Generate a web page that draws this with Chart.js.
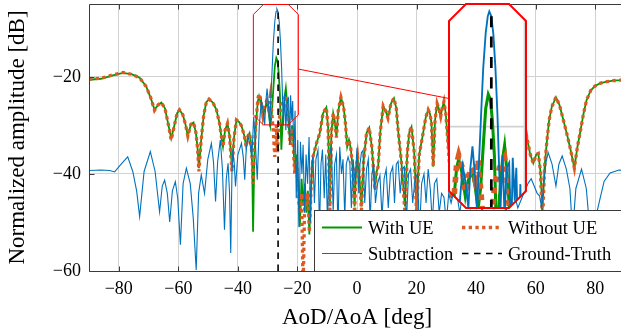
<!DOCTYPE html>
<html><head><meta charset="utf-8">
<script src="https://cdn.jsdelivr.net/npm/chart.js@4/dist/chart.umd.min.js"></script>
<style>
html,body{margin:0;padding:0;overflow:hidden;background:#fff;width:621px;height:332px;}
#wrap{position:relative;width:625px;height:332px;}
#main{position:absolute;left:0;top:0;}
#inset{position:absolute;left:446px;top:1px;}
</style></head><body>
<div id="wrap"><canvas id="main" width="625" height="332"></canvas><canvas id="inset" width="83" height="210"></canvas></div>
<script>
// ---- data ----
const angles = [
-90,-86,-82,-78.6,-75.5,-73,-70.8,-69.2,-68,-66.8,
-65.7,-64.5,-63.3,-62.4,-61.4,-60.4,-59.6,-58.5,-57.6,-56.8,
-55.8,-54.9,-54.1,-53.5,-53.1,-52.4,-51.5,-50.6,-49.7,-48.4,
-47.2,-46.2,-45.5,-45,-44.3,-43.5,-42.8,-42,-41.3,-40.5,
-39.6,-38.8,-37.9,-37.2,-36.6,-36.1,-35.6,-35.2,-34.9,-34.5,
-33.8,-33.3,-32.9,-32.3,-31.6,-31,-30.3,-29.7,-29.1,-28.6,
-28.1,-27.6,-27.1,-26.7,-26.3,-25.9,-25.4,-24.9,-24.3,-23.9,
-23.4,-22.9,-22.4,-21.8,-21.3,-20.9,-20.3,-19.7,-19.2,-18.6,
-18.1,-17.5,-17,-16.5,-16,-15.4,-14.8,-13.6,-12.5,-11.4,
-10.3,-9.7,-9.1,-8.6,-8,-7.5,-6.9,-6.3,-5.4,-4.5,
-3.9,-3.3,-2.7,-2.1,-1.5,-0.8,-0.3,0.2,0.8,1.5,
2.2,3.2,4.1,5,6,6.6,7.1,7.8,8.8,9.6,
10.4,11.4,12.4,13.2,13.8,14.9,16.1,16.9,17.6,18.3,
19.2,20,20.9,22.2,23.1,23.9,24.5,25,25.6,26.2,
26.9,27.5,28.1,28.6,29.2,29.8,30.3,31,31.7,32.5,
33.5,34.5,35.5,36.5,37.5,38.5,39.5,40.5,41.5,42.5,
43.5,44.5,45.5,46.5,47.5,48.5,49.5,50.5,51.5,52.5,
53.5,54.5,55.5,56.3,57,58.1,59.2,60.2,60.9,61.6,
62.3,63,63.7,64.5,65.4,66.8,68,69.3,70.5,71.5,
73,74,74.9,76,77.1,78.5,79.9,81.8,83.9,86,
88.3,90];
const withUE = [
-20.6,-20.4,-19.7,-19.2,-19.5,-20.2,-22.0,-24.5,-26.8,-25.8,
-25.3,-26.5,-30.0,-32.7,-30.2,-27.5,-26.8,-27.8,-29.8,-32.2,
-29.8,-29.4,-31.5,-35.0,-38.8,-33.5,-28.0,-25.2,-24.6,-25.3,
-26.8,-29.5,-32.5,-34.4,-31.0,-29.6,-32.2,-38.5,-32.5,-28.9,
-29.3,-30.1,-32.0,-34.4,-32.2,-31.6,-33.5,-38.0,-51.9,-37.0,
-28.5,-25.0,-24.0,-25.5,-28.5,-26.5,-25.5,-27.2,-30.0,-27.5,
-22.5,-17.8,-16.1,-16.7,-19.2,-23.5,-35.0,-28.5,-24.0,-22.3,
-25.8,-30.5,-33.7,-30.0,-34.5,-39.8,-36.0,-43.5,-50.9,-41.0,
-46.5,-42.0,-48.0,-43.5,-52.5,-42.6,-36.5,-33.7,-31.6,-27.5,
-26.3,-30.5,-46.5,-31.5,-27.5,-29.0,-32.5,-27.0,-24.2,-26.2,
-29.5,-34.4,-33.0,-34.7,-38.5,-46.7,-39.0,-36.5,-40.5,-46.7,
-37.5,-31.6,-30.5,-34.5,-43.3,-39.5,-38.5,-31.5,-26.0,-27.0,
-28.5,-25.5,-24.4,-26.5,-31.0,-37.5,-46.7,-35.5,-31.3,-30.3,
-35.5,-46.7,-36.0,-31.6,-28.3,-26.8,-27.6,-29.5,-38.5,-29.0,
-25.5,-26.6,-28.2,-26.5,-25.1,-27.5,-31.6,-37.5,-45.0,-34.0,
-28.5,-30.0,-40.0,-31.0,-27.5,-33.0,-45.0,-33.0,-29.0,-35.0,
-47.0,-34.0,-30.0,-34.0,-46.0,-34.0,-29.5,-33.0,-42.0,-34.0,
-31.0,-35.0,-43.0,-36.0,-32.3,-35.8,-37.8,-36.0,-35.8,-39.5,
-47.4,-38.5,-33.7,-29.0,-26.2,-24.2,-25.8,-28.9,-31.8,-34.4,
-38.8,-34.5,-31.6,-27.8,-24.8,-22.8,-21.9,-21.3,-21.0,-20.8,
-20.7,-20.6];
const withoutUE = [
-20.5,-20.3,-19.6,-19.1,-19.5,-20.2,-22.0,-24.4,-26.9,-25.8,
-25.3,-26.5,-30.0,-33.0,-30.2,-27.5,-26.8,-27.8,-29.8,-32.2,
-29.8,-29.4,-31.5,-35.0,-39.5,-33.5,-28.0,-25.2,-24.6,-25.3,
-26.8,-29.5,-32.5,-34.4,-31.0,-29.6,-32.2,-39.5,-32.5,-28.9,
-29.3,-30.1,-32.0,-34.4,-32.2,-31.6,-33.5,-37.0,-42.0,-35.0,
-28.5,-24.5,-23.5,-24.8,-28.0,-26.0,-25.0,-26.5,-24.0,-27.5,
-31.5,-36.5,-30.0,-35.5,-30.5,-27.5,-26.0,-25.0,-24.3,-23.8,
-26.5,-30.5,-34.0,-30.5,-35.5,-40.0,-37.0,-45.0,-48.0,-44.0,
-64.0,-44.0,-47.0,-44.0,-52.0,-42.6,-36.5,-33.7,-31.6,-27.5,
-26.3,-30.5,-47.5,-31.5,-27.5,-29.0,-32.5,-27.0,-24.2,-26.2,
-29.5,-34.4,-33.0,-34.7,-38.5,-48.0,-39.0,-36.5,-40.5,-47.5,
-37.5,-31.6,-30.5,-34.5,-43.3,-39.5,-38.5,-31.5,-26.0,-27.0,
-28.5,-25.5,-24.4,-26.5,-31.0,-37.5,-48.0,-35.5,-31.3,-30.3,
-35.5,-48.0,-36.0,-31.6,-28.3,-26.8,-27.6,-29.5,-38.5,-29.0,
-25.5,-26.6,-28.2,-26.5,-25.1,-27.5,-31.6,-37.5,-45.0,-34.0,
-28.5,-30.0,-40.0,-31.0,-27.5,-33.0,-45.0,-33.0,-29.0,-35.0,
-47.0,-34.0,-30.0,-34.0,-46.0,-34.0,-29.5,-33.0,-42.0,-34.0,
-31.0,-35.0,-43.0,-36.0,-32.3,-35.8,-37.8,-36.0,-35.8,-39.5,
-50.0,-38.5,-33.7,-29.0,-26.2,-24.2,-25.8,-28.9,-31.8,-34.4,
-38.8,-34.5,-31.6,-27.8,-24.8,-22.8,-21.9,-21.3,-21.0,-20.8,
-20.7,-20.6];
const subAngles = [
-90,-86,-83,-81.4,-79.5,-77,-75.3,-74,-73,-71.5,
-69.4,-67.8,-66.3,-65.4,-64.6,-63.7,-62.9,-62,-61,-60.2,
-59.3,-58.4,-57.3,-56,-55,-54,-53.2,-52.3,-51.2,-50.1,
-48.9,-48.2,-47.5,-46.8,-45.9,-45.2,-44.5,-43.9,-43.3,-42.8,
-42.4,-42,-41.7,-41.2,-40.8,-40,-38.8,-38.2,-37.7,-37.2,
-36.6,-35.9,-35.3,-34.7,-34.1,-33.5,-32.8,-32.1,-31.5,-31,
-30.6,-30.2,-29.7,-29.3,-28.9,-28.5,-28.1,-27.6,-27.2,-26.9,
-26.5,-26.1,-25.7,-25.3,-25,-24.7,-24.3,-23.9,-23.5,-23,
-22.6,-22.3,-21.9,-21.6,-21.2,-20.8,-20.4,-19.9,-19.5,-19,
-18.5,-18.1,-17.6,-17.1,-16.6,-16.1,-15.6,-15.2,-14.8,-14.3,
-13.8,-13.1,-12.6,-12.1,-11.6,-11,-10.5,-9.9,-9.4,-8.6,
-8,-7.5,-6.9,-6.4,-5.8,-5.2,-4.7,-4.1,-3.6,-3,
-2.4,-1.9,-1.3,-0.6,0,0.6,1,1.5,2,2.6,
3.2,3.8,4.4,5,5.6,6.2,6.9,7.7,8.4,9.1,
9.8,10.5,11.2,12,12.6,13.2,13.8,14.5,15.2,15.9,
16.6,17.3,18,18.7,19.5,20.3,21,21.7,22.5,23.2,
23.9,24.6,25.3,26,26.8,27.6,28.4,29.2,30,30.8,
31.6,33,34.5,36,38,40,42,44,46,48,
50,52,54,56,57.5,58.5,59.5,60.5,61.3,62,
62.8,63.5,64.2,65.5,66.8,67.8,68.9,70.3,71.5,72.4,
73.5,75.4,77,78.7,79.8,81.5,83,85,88,90];
const subtraction = [
-39.3,-39.2,-39.3,-39.6,-38.2,-36.5,-39.5,-43.5,-48.8,-39.5,
-35.4,-39.5,-47.8,-42.5,-41.3,-44,-49.9,-43.5,-41.6,-45,
-54.6,-42,-38.8,-42,-49,-59.8,-44,-40.2,-44,-37,
-33.7,-37.5,-45.7,-37.5,-33,-39,-51.5,-41,-37.8,-44,
-56.3,-40,-35.1,-38,-42.6,-36,-33.7,-36.5,-41.2,-35,
-32.3,-34,-36.5,-28.2,-34,-41.2,-30,-24.8,-27,-29.9,
-25,-22.4,-26,-30.3,-24,-18.5,-13,-8.6,-6.6,-6,
-6.6,-8.8,-12.8,-18.5,-24.5,-30,-23.5,-31,-25,-24.4,
-34,-23.8,-29,-25,-36,-27,-45,-33,-51,-33.4,
-40,-34,-48,-36,-42,-32.4,-50,-38,-36.4,-46,
-37,-35.1,-52,-38,-35,-45,-36,-50,-37,-34,
-48,-38,-36,-52,-34.4,-40,-37,-49,-38,-36.5,
-37.8,-47,-37,-42,-34.6,-44,-38,-35.6,-35.2,-46,
-39,-37,-50,-40,-38,-46,-42,-40.3,-49,-41,
-39,-47,-40,-38.5,-46,-38,-37.4,-44,-39,-38.5,
-50,-40,-39,-46,-41,-40,-52,-42,-40,-46,
-39,-43,-50,-42,-41,-48,-44,-44.8,-50,-44,
-46,-42,-48,-42,-47,-41,-48,-42,-47,-41,
-48,-42,-47,-44,-41.9,-41,-42.5,-44,-44.5,-47,
-41.5,-37.5,-35.6,-38,-42.5,-38,-36.3,-39,-43,-52,
-43,-39,-43,-55,-50,-45.4,-41.5,-39.8,-39.2,-39.3];
const gtAngle = -26.5;
const gtLevels = [-60, -5.8];
const xTicks = [-80,-60,-40,-20,0,20,40,60,80];
const yTicks = [-60,-40,-20];
const xRange = [-90, 90];
const yRange = [-60, -5];
const zoomX = [-34.8, -19.7];
const zoomY = [-29.9, -5.1];
const seriesNames = ['With UE','Without UE','Subtraction','Ground-Truth'];

// ---- styling / layout ----
const serif = "'Liberation Serif','Times New Roman',serif";
const GRID = '#d2d2d2', FRAME = '#3a3a3a';
const insetBox = {left:449, top:4, width:77, height:204};
const fmt = v => v < 0 ? '\u2212' + Math.abs(v) : String(v);
const pts = (xs, ys) => xs.map((x, i) => ({x, y: ys[i]}));

function makeDatasets(k){
  return [
    {label:seriesNames[0], data:pts(angles, withUE), borderColor:'#009900', borderWidth:1.8*k, order:3},
    {label:seriesNames[1], data:pts(angles, withoutUE), borderColor:'#dd5a22', borderWidth:3.3*k, borderDash:[3.3*k,3.4*k], borderCapStyle:'butt', order:2},
    {label:seriesNames[2], data:pts(subAngles, subtraction), borderColor:'#0072bd', borderWidth:1.1*k, order:1},
    {label:seriesNames[3], data:gtLevels.map(y => ({x:gtAngle, y})), borderColor:'#000000', borderWidth:1.6*k, borderDash:[6.5*k,5.5*k], borderCapStyle:'butt', order:0}
  ].map(d => Object.assign({pointRadius:0, pointHoverRadius:0, tension:0, fill:false, borderJoinStyle:'miter'}, d));
}

function octagon(ctx, L, T, R, B, c){
  ctx.beginPath();
  ctx.moveTo(L, T + c); ctx.lineTo(L + c, T); ctx.lineTo(R - c, T); ctx.lineTo(R, T + c);
  ctx.lineTo(R, B - c); ctx.lineTo(R - c, B); ctx.lineTo(L + c, B); ctx.lineTo(L, B - c);
  ctx.closePath();
}

const framePlugin = {
  id:'frame',
  afterDatasetsDraw(chart){
    const {ctx, chartArea:a, scales:{x, y}} = chart;
    const L = Math.round(a.left) + 0.5, T = Math.round(a.top) + 0.5, B = Math.round(a.bottom) + 0.5, R = a.right + 10;
    ctx.save();
    ctx.strokeStyle = FRAME; ctx.lineWidth = 1;
    ctx.beginPath();
    ctx.moveTo(R, T); ctx.lineTo(L, T); ctx.lineTo(L, B); ctx.lineTo(R, B);
    xTicks.forEach(v => { const p = Math.round(x.getPixelForValue(v)) + 0.5; ctx.moveTo(p, T); ctx.lineTo(p, T + 5); ctx.moveTo(p, B); ctx.lineTo(p, B - 5); });
    yTicks.forEach(v => { const p = Math.round(y.getPixelForValue(v)) + 0.5; ctx.moveTo(L, p); ctx.lineTo(L + 5, p); });
    ctx.stroke();
    // spy box + connector
    const sL = x.getPixelForValue(zoomX[0]), sR = x.getPixelForValue(zoomX[1]);
    const sT = y.getPixelForValue(zoomY[1]), sB = y.getPixelForValue(zoomY[0]);
    ctx.strokeStyle = '#ff0000'; ctx.lineWidth = 1;
    octagon(ctx, sL, sT, sR, sB, 10); ctx.stroke();
    const cx = (sL + sR) / 2, cy = (sT + sB) / 2;
    const ix = insetBox.left + insetBox.width / 2, iy = insetBox.top + insetBox.height / 2;
    const yAt = px => cy + (iy - cy) * (px - cx) / (ix - cx);
    ctx.beginPath(); ctx.moveTo(sR, yAt(sR)); ctx.lineTo(insetBox.left, yAt(insetBox.left)); ctx.stroke();
    ctx.restore();
  },
  afterDraw(chart){
    const {ctx, chartArea:a} = chart;
    const ds = chart.data.datasets;
    ctx.save();
    const bx = 314.5, by = 210.5, bR = a.right + 10, bB = Math.round(a.bottom) + 0.5;
    ctx.fillStyle = '#fff'; ctx.fillRect(bx, by, bR - bx, bB - by);
    ctx.strokeStyle = FRAME; ctx.lineWidth = 1; ctx.strokeRect(bx, by, bR - bx, bB - by);
    const items = [
      {i:0, x:322, y:227.5, tx:368, ty:233.5},
      {i:1, x:462, y:227.5, tx:508, ty:233.5},
      {i:2, x:322, y:253.5, tx:368, ty:259.5},
      {i:3, x:462, y:253.5, tx:508, ty:259.5}
    ];
    ctx.font = '18.5px ' + serif; ctx.fillStyle = '#000'; ctx.textBaseline = 'alphabetic';
    items.forEach(it => {
      const d = ds[it.i];
      ctx.save();
      ctx.strokeStyle = d.borderColor; ctx.lineWidth = d.borderWidth;
      ctx.setLineDash(d.borderDash || []); ctx.lineCap = 'butt';
      ctx.beginPath(); ctx.moveTo(it.x, it.y); ctx.lineTo(it.x + 40, it.y); ctx.stroke();
      ctx.restore();
      ctx.fillText(d.label, it.tx, it.ty);
    });
    ctx.restore();
  }
};

new Chart(document.getElementById('main'), {
  type:'line',
  data:{datasets:makeDatasets(1)},
  options:{
    responsive:false, animation:false, devicePixelRatio:1, events:[],
    layout:{padding:{left:0, right:0, top:4, bottom:0}},
    plugins:{legend:{display:false}, tooltip:{enabled:false}},
    scales:{
      x:{type:'linear', min:xRange[0], max:xRange[1],
        afterBuildTicks:s => { s.ticks = xTicks.map(v => ({value:v})); },
        afterFit:s => { s.height = 61; s.paddingLeft = 0; s.paddingRight = 0; },
        grid:{color:GRID, lineWidth:1, drawTicks:false},
        border:{display:false},
        ticks:{padding:7, color:'#000', font:{family:serif, size:18}, callback:v => fmt(v), maxRotation:0, autoSkip:false},
        title:{display:true, text:'AoD/AoA [deg]', color:'#000', font:{family:serif, size:23}, padding:{top:0, bottom:0}}},
      y:{type:'linear', min:yRange[0], max:yRange[1],
        afterBuildTicks:s => { s.ticks = yTicks.map(v => ({value:v})); },
        afterFit:s => { s.width = 89; s.paddingTop = 0; s.paddingBottom = 0; },
        grid:{color:GRID, lineWidth:1, drawTicks:false},
        border:{display:false},
        ticks:{padding:8, color:'#000', font:{family:serif, size:18}, callback:v => fmt(v), autoSkip:false},
        title:{display:true, text:'Normalized amplitude [dB]', color:'#000', font:{family:serif, size:23}, padding:{top:4, bottom:0}}}
    }
  },
  plugins:[framePlugin]
});

const insetPlugin = {
  id:'insetFrame',
  beforeDraw(chart){
    const {ctx, chartArea:a} = chart;
    ctx.save(); octagon(ctx, a.left, a.top, a.right, a.bottom, 17); ctx.fillStyle = '#fff'; ctx.fill(); ctx.restore();
  },
  beforeDatasetsDraw(chart){
    const {ctx, chartArea:a, scales:{x, y}} = chart;
    ctx.save();
    octagon(ctx, a.left, a.top, a.right, a.bottom, 17); ctx.clip();
    ctx.strokeStyle = GRID; ctx.lineWidth = 1.7;
    const gy = y.getPixelForValue(-20), gx = x.getPixelForValue(-20);
    ctx.beginPath(); ctx.moveTo(a.left, gy); ctx.lineTo(a.right, gy); ctx.moveTo(gx, a.top); ctx.lineTo(gx, a.bottom); ctx.stroke();
  },
  afterDatasetsDraw(chart){
    const {ctx, chartArea:a} = chart;
    ctx.restore();
    ctx.save(); octagon(ctx, a.left, a.top, a.right, a.bottom, 17);
    ctx.strokeStyle = '#ff0000'; ctx.lineWidth = 2; ctx.stroke(); ctx.restore();
  }
};

new Chart(document.getElementById('inset'), {
  type:'line',
  data:{datasets:makeDatasets(1.7)},
  options:{
    responsive:false, animation:false, devicePixelRatio:1, events:[],
    layout:{padding:{left:3, right:3, top:3, bottom:3}},
    plugins:{legend:{display:false}, tooltip:{enabled:false}},
    scales:{
      x:{type:'linear', display:false, min:zoomX[0], max:zoomX[1]},
      y:{type:'linear', display:false, min:zoomY[0], max:zoomY[1]}
    }
  },
  plugins:[insetPlugin]
});
</script>
</body></html>
